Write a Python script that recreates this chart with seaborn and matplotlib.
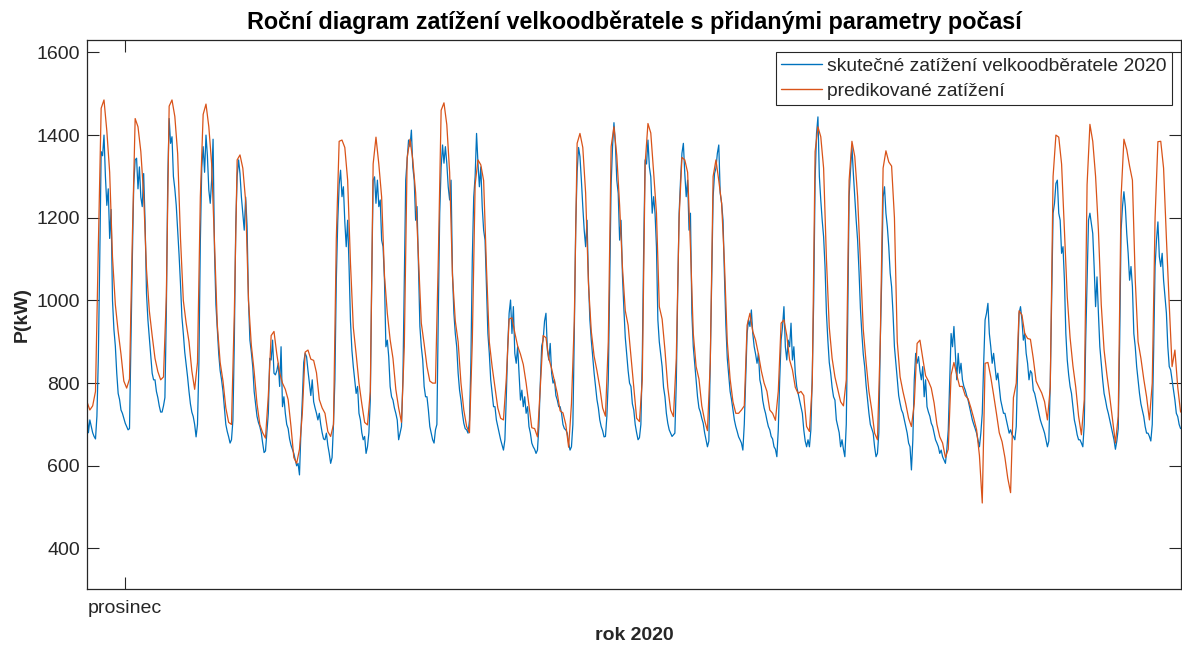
import numpy as np
import pandas as pd
import matplotlib
matplotlib.use("Agg")
import matplotlib.pyplot as plt
import seaborn as sns

# ---------------- data (kW) ----------------
# actual load, one value per hour, starting Mon 30 Nov 00:00 (one row per day)
actual_kw = [
    727, 680, 711, 695, 680, 671, 665, 720, 860, 1100, 1360, 1350, 1400, 1300, 1230, 1270, 1150, 1220, 1000, 930, 890, 824, 775, 760,
    735, 727, 715, 703, 695, 687, 690, 900, 1100, 1280, 1340, 1344, 1270, 1323, 1250, 1227, 1307, 1190, 1017, 953, 910, 864, 824, 808,
    808, 780, 765, 745, 730, 730, 745, 765, 969, 1291, 1440, 1380, 1396, 1300, 1270, 1230, 1170, 1110, 1040, 960, 920, 875, 845, 815,
    780, 750, 730, 719, 700, 670, 700, 850, 1140, 1320, 1372, 1310, 1400, 1350, 1267, 1235, 1291, 1390, 1120, 990, 930, 870, 830, 808,
    780, 740, 700, 683, 670, 655, 663, 710, 900, 1180, 1300, 1340, 1307, 1250, 1210, 1170, 1250, 1180, 1000, 904, 875, 840, 780, 750,
    720, 705, 695, 680, 655, 632, 636, 680, 727, 860, 856, 904, 824, 820, 830, 848, 792, 888, 743, 767, 727, 700, 690, 665,
    650, 640, 630, 615, 600, 606, 578, 680, 760, 850, 872, 864, 830, 800, 770, 808, 755, 740, 727, 711, 727, 700, 680, 665,
    663, 679, 650, 630, 606, 620, 700, 808, 1049, 1190, 1280, 1315, 1251, 1275, 1190, 1130, 1194, 1082, 950, 880, 840, 808, 775, 792,
    727, 711, 680, 663, 671, 630, 646, 680, 760, 1049, 1291, 1299, 1235, 1291, 1227, 1243, 1146, 1130, 1049, 888, 904, 864, 792, 767,
    759, 740, 727, 711, 663, 679, 695, 808, 1049, 1291, 1340, 1388, 1372, 1412, 1323, 1291, 1194, 1227, 1082, 937, 888, 856, 792, 767,
    767, 735, 695, 679, 663, 655, 687, 700, 969, 1211, 1323, 1376, 1332, 1372, 1332, 1275, 1243, 1291, 1066, 969, 920, 888, 824, 783,
    759, 727, 703, 690, 687, 679, 710, 850, 1100, 1250, 1300, 1404, 1332, 1275, 1323, 1227, 1170, 1146, 1033, 920, 872, 808, 775, 743,
    743, 711, 695, 679, 663, 650, 638, 663, 767, 888, 969, 1001, 920, 985, 872, 848, 888, 824, 759, 783, 743, 767, 727, 743,
    695, 679, 655, 646, 640, 630, 638, 695, 800, 890, 904, 950, 969, 880, 856, 896, 824, 800, 808, 770, 759, 743, 743, 727,
    700, 690, 687, 679, 655, 638, 646, 700, 920, 1180, 1310, 1370, 1348, 1291, 1227, 1170, 1130, 1194, 1050, 953, 904, 864, 824, 792,
    760, 740, 711, 695, 685, 670, 671, 720, 808, 1049, 1280, 1372, 1430, 1380, 1291, 1259, 1146, 1194, 1060, 980, 910, 870, 830, 800,
    792, 750, 735, 700, 680, 663, 668, 700, 860, 1130, 1340, 1330, 1388, 1323, 1299, 1211, 1251, 1211, 1130, 953, 900, 870, 840, 790,
    767, 727, 703, 687, 679, 671, 675, 679, 800, 1020, 1211, 1291, 1356, 1380, 1307, 1251, 1291, 1170, 1211, 969, 888, 848, 808, 767,
    740, 730, 715, 703, 680, 663, 646, 660, 850, 1050, 1250, 1307, 1320, 1356, 1376, 1260, 1235, 1194, 1060, 940, 860, 820, 780, 760,
    735, 711, 695, 683, 670, 663, 655, 638, 700, 808, 920, 953, 937, 977, 920, 888, 870, 848, 872, 808, 792, 759, 740, 727,
    710, 695, 687, 671, 665, 646, 640, 622, 687, 808, 904, 937, 985, 888, 856, 904, 888, 945, 856, 888, 824, 792, 775, 759,
    743, 727, 687, 660, 646, 663, 646, 687, 820, 1000, 1291, 1404, 1444, 1300, 1243, 1194, 1154, 1082, 969, 904, 850, 824, 790, 767,
    759, 711, 695, 680, 646, 663, 640, 622, 700, 950, 1251, 1315, 1372, 1307, 1251, 1194, 1146, 1070, 980, 920, 870, 840, 795, 760,
    727, 700, 690, 679, 646, 622, 630, 680, 900, 1050, 1250, 1275, 1211, 1178, 1130, 1066, 1033, 969, 888, 850, 810, 770, 751, 735,
    727, 711, 695, 679, 655, 646, 590, 663, 808, 872, 848, 864, 830, 808, 840, 767, 808, 743, 730, 720, 703, 695, 679, 663,
    655, 646, 630, 638, 622, 614, 606, 640, 687, 808, 920, 888, 937, 872, 808, 872, 824, 848, 808, 792, 783, 770, 759, 743,
    727, 711, 700, 690, 679, 663, 646, 679, 727, 848, 953, 969, 993, 920, 888, 848, 872, 840, 808, 824, 792, 759, 743, 727,
    727, 711, 695, 679, 687, 675, 671, 663, 695, 848, 969, 985, 953, 904, 920, 872, 848, 808, 830, 824, 783, 775, 759, 743,
    727, 711, 700, 690, 679, 663, 646, 660, 800, 1000, 1211, 1235, 1283, 1291, 1211, 1194, 1114, 1130, 1049, 920, 856, 820, 792, 775,
    743, 711, 695, 675, 663, 663, 655, 646, 700, 900, 1049, 1194, 1211, 1186, 1162, 1080, 985, 1057, 969, 888, 848, 808, 775, 759,
    740, 727, 711, 695, 680, 663, 640, 660, 690, 900, 1170, 1227, 1263, 1227, 1162, 1114, 1049, 1082, 1033, 920, 888, 840, 808, 775,
    750, 735, 719, 695, 679, 679, 671, 660, 700, 880, 1082, 1146, 1190, 1106, 1082, 1114, 1049, 1009, 969, 888, 840, 832, 808, 783,
    759, 727, 719, 700, 690,
]

# predicted load, one value every 2 hours, same start (one row per day)
predicted_kw = [
    755, 735, 745, 780, 1130, 1465, 1485, 1410, 1310, 1105, 990, 925,
    870, 805, 788, 810, 1150, 1440, 1420, 1360, 1255, 1075, 975, 915,
    860, 828, 808, 815, 1010, 1470, 1485, 1445, 1355, 1150, 1000, 945,
    900, 830, 785, 850, 1250, 1450, 1475, 1420, 1330, 1140, 940, 850,
    805, 740, 705, 700, 969, 1340, 1352, 1320, 1240, 1000, 892, 828,
    750, 700, 680, 667, 770, 915, 925, 870, 825, 800, 785, 760,
    695, 620, 606, 640, 727, 875, 880, 858, 855, 825, 760, 740,
    727, 683, 671, 700, 1150, 1385, 1388, 1370, 1291, 1090, 935, 870,
    800, 750, 705, 699, 780, 1330, 1395, 1330, 1250, 1060, 969, 905,
    860, 785, 740, 705, 888, 1345, 1390, 1340, 1260, 1100, 945, 895,
    840, 805, 800, 800, 1100, 1460, 1478, 1425, 1310, 1060, 950, 900,
    800, 735, 695, 680, 900, 1280, 1340, 1328, 1290, 1080, 900, 840,
    790, 740, 715, 711, 811, 955, 958, 922, 890, 870, 845, 800,
    745, 692, 690, 670, 790, 915, 910, 860, 835, 805, 775, 733,
    728, 700, 645, 750, 950, 1380, 1404, 1370, 1260, 1040, 925, 865,
    830, 790, 740, 720, 900, 1372, 1420, 1350, 1230, 1080, 975, 940,
    864, 790, 715, 707, 808, 1330, 1428, 1405, 1310, 1211, 985, 955,
    880, 790, 735, 719, 860, 1200, 1346, 1340, 1310, 1130, 920, 840,
    810, 745, 710, 685, 850, 1300, 1340, 1290, 1235, 1090, 900, 810,
    755, 727, 727, 735, 745, 940, 969, 925, 904, 870, 830, 800,
    780, 735, 727, 710, 780, 945, 953, 915, 856, 832, 790, 775,
    780, 770, 695, 683, 800, 1360, 1420, 1396, 1320, 1100, 935, 860,
    815, 785, 755, 745, 808, 1290, 1385, 1348, 1251, 1090, 930, 850,
    780, 735, 679, 663, 900, 1320, 1362, 1335, 1325, 1200, 900, 815,
    780, 750, 715, 695, 750, 896, 904, 860, 818, 805, 788, 752,
    700, 670, 655, 620, 640, 820, 850, 820, 792, 792, 770, 762,
    740, 715, 687, 625, 510, 848, 850, 815, 772, 727, 680, 658,
    620, 570, 535, 765, 800, 975, 965, 920, 908, 906, 860, 805,
    790, 776, 755, 711, 790, 1300, 1400, 1395, 1330, 1170, 1009, 910,
    842, 790, 720, 675, 760, 1280, 1426, 1385, 1300, 1170, 990, 880,
    820, 767, 711, 655, 720, 1250, 1390, 1365, 1325, 1291, 1050, 900,
    860, 810, 767, 711, 800, 1200, 1384, 1385, 1320, 1150, 990, 840,
    880, 790, 730,
]

series_labels = ["skutečné zatížení velkoodběratele 2020", "predikované zatížení"]
y_ticks = [400, 600, 800, 1000, 1200, 1400, 1600]
x_tick_hours = [26.8]
x_tick_labels = ["prosinec"]
title_text = "Roční diagram zatížení velkoodběratele s přidanými parametry počasí"
x_label = "rok 2020"
y_label = "P(kW)"

# time axis in hours since the first sample
df_actual = pd.DataFrame({"hour": np.arange(len(actual_kw)) * 1.0, "kW": actual_kw})
df_pred = pd.DataFrame({"hour": np.arange(len(predicted_kw)) * 2.0, "kW": predicted_kw})

# ---------------- style ----------------
sns.set_style("ticks")
plt.rcParams["font.family"] = ["Liberation Sans", "DejaVu Sans"]
ink = "#262626"

fig = plt.figure(figsize=(11.82, 6.45), dpi=100)
ax = fig.add_axes([87 / 1182, 56 / 645, 1094 / 1182, 549 / 645])

sns.lineplot(data=df_actual, x="hour", y="kW", ax=ax, color="#0072BD",
             linewidth=0.9, label=series_labels[0])
sns.lineplot(data=df_pred, x="hour", y="kW", ax=ax, color="#D95319",
             linewidth=0.9, label=series_labels[1])

ax.set_xlim(0, 772.3)
ax.set_ylim(302, 1630)
ax.set_yticks(y_ticks)
ax.set_xticks(x_tick_hours)
ax.set_xticklabels(x_tick_labels)

ax.tick_params(direction="in", length=8.3, width=0.8, top=True, right=True,
               labelsize=14, colors=ink, pad=5)
ax.tick_params(axis="x", pad=8)
for s in ax.spines.values():
    s.set_visible(True)
    s.set_color(ink)
    s.set_linewidth(0.9)

ax.set_title(title_text, fontsize=16.8, fontweight="bold", color="black", pad=8)
ax.set_xlabel(x_label, fontsize=14, fontweight="bold", color=ink, labelpad=7)
ax.set_ylabel(y_label, fontsize=14, fontweight="bold", color=ink, labelpad=4)

leg = ax.legend(loc="upper right", bbox_to_anchor=(1 - 9 / 1094, 1 - 12 / 549),
                fontsize=13.9, frameon=True, fancybox=False,
                framealpha=1, edgecolor=ink, borderpad=0.28, handlelength=2.1,
                handletextpad=0.28, labelspacing=0.38, borderaxespad=0)
leg.get_frame().set_linewidth(0.8)
for line in leg.get_lines():
    line.set_linewidth(1.0)

fig.savefig("out.png", dpi=100)
